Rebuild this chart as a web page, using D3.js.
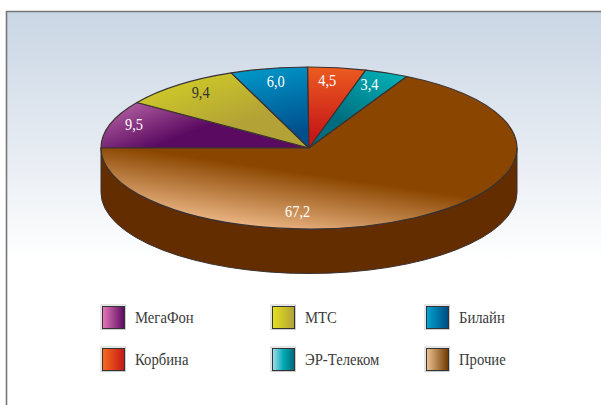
<!DOCTYPE html>
<html><head><meta charset="utf-8">
<script src="https://cdn.jsdelivr.net/npm/d3@7"></script>
<style>html,body{margin:0;padding:0;background:#fff}svg{display:block}text{font-family:"Liberation Serif",serif}</style>
</head><body><script>
const categories = ["МегаФон","МТС","Билайн","Корбина","ЭР-Телеком","Прочие"];
const values = [9.5,9.4,6.0,4.5,3.4,67.2];
const valueLabels = ["9,5","9,4","6,0","4,5","3,4","67,2"];
const sliceStops = [["#a8559a","#5a0a60"],["#d2ce26","#b3a336"],["#0094c6","#004f8c"],["#ec5c20","#c61818"],["#00b0b6","#006c7e"],["#e8b280","#8a4600"]];
const legendStops = [["#e678b8","#5a0a60"],["#e6e21e","#b0a038"],["#00a4d4","#004a80"],["#f66c20","#c41818"],["#a4deea","#00aab4","#006878"],["#eec494","#703800"]];

const W=601,H=405,cx=309,cy=148,rx=208,ry=81,depth=44.5;
const svg=d3.select("body").append("svg").attr("width",W).attr("height",H);
const defs=svg.append("defs");
const bg=defs.append("linearGradient").attr("id","bg").attr("x1",0).attr("y1",0).attr("x2",0).attr("y2",1);
bg.append("stop").attr("offset",0).attr("stop-color","#c9d6e4");
bg.append("stop").attr("offset",.55).attr("stop-color","#e6ebf2");
bg.append("stop").attr("offset",1).attr("stop-color","#ffffff");
svg.append("rect").attr("x",7).attr("y",11).attr("width",W-7).attr("height",250).attr("fill","url(#bg)");
svg.append("path").attr("d",`M6.5 ${H}V11.5H${W}`).attr("fill","none").attr("stroke","#77777b").attr("stroke-width",1.6);

// gradient vectors in each slice's bounding box
const vectors=[[0,.35,.46,.6],[.05,.1,.55,.7],[.5,0,.7,.85],[.5,0,.5,.85],[.9,.05,.45,.75],[.471,1.02,.606,.68]];
sliceStops.forEach((s,i)=>{
  const g=defs.append("linearGradient").attr("id","s"+i).attr("x1",vectors[i][0]).attr("y1",vectors[i][1]).attr("x2",vectors[i][2]).attr("y2",vectors[i][3]);
  g.append("stop").attr("offset",0).attr("stop-color",s[0]);
  g.append("stop").attr("offset",1).attr("stop-color",s[1]);
});
legendStops.forEach((s,i)=>{
  const g=defs.append("linearGradient").attr("id","l"+i);
  s.forEach((c,k)=>g.append("stop").attr("offset",k/(s.length-1)).attr("stop-color",c));
});

const edge="#3a3230";
// extruded side
svg.append("path")
  .attr("d",`M${cx-rx} ${cy}V${cy+depth}A${rx} ${ry} 0 0 0 ${cx+rx} ${cy+depth}V${cy}A${rx} ${ry} 0 0 1 ${cx-rx} ${cy}Z`)
  .attr("fill","#632d00").attr("stroke",edge).attr("stroke-width",1);

const pie=d3.pie().sort(null).startAngle(-Math.PI/2).endAngle(3*Math.PI/2);
const arcs=pie(values);
const arc=d3.arc().innerRadius(0).outerRadius(rx);
const face=svg.append("g").attr("transform",`translate(${cx},${cy}) scale(1,${ry/rx})`);
face.selectAll("path").data(arcs).join("path")
  .attr("d",arc).attr("fill",(d,i)=>`url(#s${i})`)
  .attr("stroke",edge).attr("stroke-width",1.2).attr("stroke-linejoin","round")
  .attr("vector-effect","non-scaling-stroke");

// value labels: radial placement, plus per-label nudges
const labelRadius=[.88,.83,.85,.83,.83,.80];
const labelNudge=[[0,-3],[0,-4],[1,0],[-5,-2],[-4,-2],[-97,7]];
const labelColor=["#fff","#333","#fff","#fff","#fff","#fff"];
svg.append("g").selectAll("text").data(arcs).join("text")
  .attr("transform",(d,i)=>{
    const a=(d.startAngle+d.endAngle)/2;
    const x=cx+rx*labelRadius[i]*Math.sin(a)+labelNudge[i][0];
    const y=cy-ry*labelRadius[i]*Math.cos(a)+labelNudge[i][1];
    return `translate(${x},${y}) scale(.82,1)`;
  })
  .attr("dy","0.35em").attr("text-anchor","middle").attr("font-size",17.5)
  .attr("fill",(d,i)=>labelColor[i]).text((d,i)=>valueLabels[i]);

// legend
const legendX=[102,272,426],legendY=[306,348],sw=23;
const items=svg.append("g").selectAll("g").data(categories).join("g")
  .attr("transform",(d,i)=>`translate(${legendX[i%3]},${legendY[Math.floor(i/3)]})`);
items.append("rect").attr("x",-1).attr("y",-1).attr("width",sw+1.5).attr("height",sw+1.5).attr("fill","none").attr("stroke","#ccc").attr("stroke-width",1);
items.append("rect").attr("x",.5).attr("y",.5).attr("width",sw-1).attr("height",sw-1).attr("fill",(d,i)=>`url(#l${i})`).attr("stroke","#333").attr("stroke-width",1);
items.append("text").attr("transform",`translate(33,${sw/2}) scale(.89,1)`).attr("dy","0.35em").attr("font-size",16.5).attr("fill","#3a3a3a").text(d=>d);
</script></body></html>
